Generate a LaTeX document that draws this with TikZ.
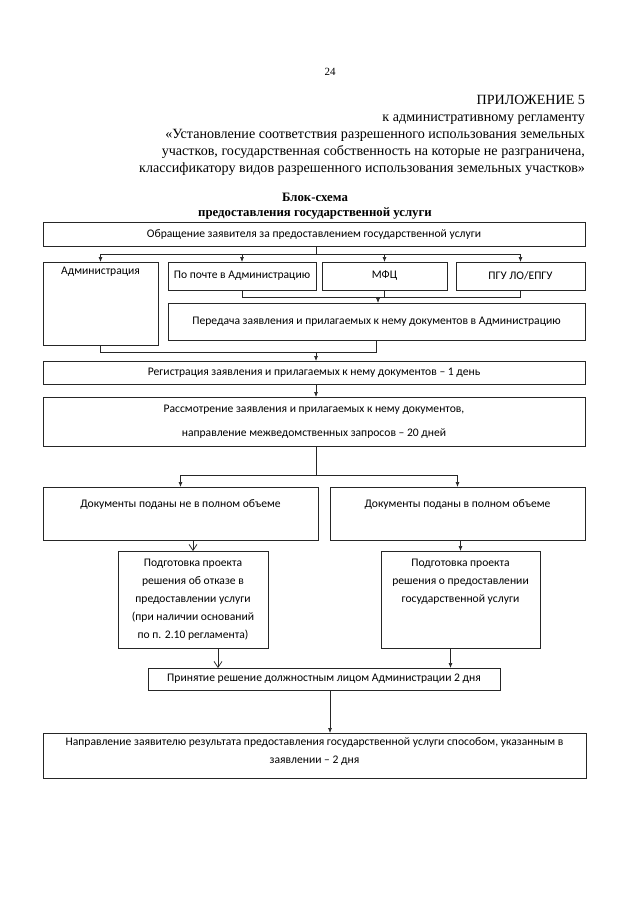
\documentclass[tikz,border=0pt]{standalone}
\usepackage{fontspec}
\setmainfont{Carlito}
\newfontfamily\timesf{Liberation Serif}
\usetikzlibrary{arrows.meta}
\tikzset{
	blk/.style={rectangle, draw=black!85, line width=0.7, align=center, font=\fontsize{11.6}{18}\selectfont},
	ln/.style={draw=black!85, line width=0.7},
	arr/.style={ln, -{Latex[length=5, width=4]}},
	oarr/.style={ln, -{Straight Barb[length=6, width=8]}},
	txt/.style={font=\fontsize{11.6}{18}\selectfont, align=center}
}
\begin{document}
\begin{tikzpicture}[y=-1pt, x=1pt, inner sep=0pt, outer sep=0pt]
\useasboundingbox (0,0) rectangle (640,905);
% header
\node[font=\timesf\fontsize{11}{13}\selectfont] (Page) at (330,72) {24};
\node[anchor=north east, align=right, font=\timesf\fontsize{14.1}{17}\selectfont] (Pril) at (585,95.5) {ПРИЛОЖЕНИЕ 5\\к административному регламенту\\«Установление соответствия разрешенного использования земельных\\участков, государственная собственность на которые не разграничена,\\классификатору видов разрешенного использования земельных участков»};
\node[align=center, font=\timesf\bfseries\fontsize{12.8}{14.5}\selectfont] (Title) at (315,206) {Блок-схема\\предоставления государственной услуги};
% boxes
\node[blk, minimum width=542, minimum height=24] (Obr) at (314,234) {Обращение заявителя за предоставлением государственной услуги};
\node[blk, minimum width=115, minimum height=83] (Adm) at (100.5,303.5) {};
\node[txt] (AdmT) at (100.5,272) {Администрация};
\node[blk, minimum width=148, minimum height=28] (Pocht) at (242,276) {По почте в Администрацию};
\node[blk, minimum width=125, minimum height=28] (MFC) at (384.5,276) {МФЦ};
\node[blk, minimum width=129, minimum height=28] (PGU) at (520.5,276) {ПГУ ЛО/ЕПГУ};
\node[blk, minimum width=417, minimum height=37] (Pered) at (376.5,321.5) {Передача заявления и прилагаемых к нему документов в Администрацию};
\node[blk, minimum width=542, minimum height=23] (Reg) at (314,372.5) {Регистрация заявления и прилагаемых к нему документов – 1 день};
\node[blk, minimum width=542, minimum height=49, font=\fontsize{11.6}{24}\selectfont] (Rassm) at (314,421.5) {Рассмотрение заявления и прилагаемых к нему документов,\\направление межведомственных запросов – 20 дней};
\node[blk, minimum width=275, minimum height=53] (NeP) at (180.5,513.5) {};
\node[txt] (NePT) at (180.5,504) {Документы поданы не в полном объеме};
\node[blk, minimum width=255, minimum height=53] (Poln) at (457.5,513.5) {};
\node[txt] (PolnT) at (457.5,504) {Документы поданы в полном объеме};
\node[blk, minimum width=150, minimum height=97] (Otkaz) at (193,599.5) {Подготовка проекта\\решения об отказе в\\предоставлении услуги\\(при наличии оснований\\по п. 2.10 регламента)};
\node[blk, minimum width=159, minimum height=97] (Predost) at (460.5,599.5) {};
\node[txt, anchor=north] (PredostT) at (460.5,559) {Подготовка проекта\\решения о предоставлении\\государственной услуги};
\node[blk, minimum width=352, minimum height=22] (Prin) at (324,679) {Принятие решение должностным лицом Администрации 2 дня};
\node[blk, minimum width=543, minimum height=45] (Napr) at (314.5,755.5) {};
\node[txt, anchor=north] (NaprT) at (314.5,737.5) {Направление заявителю результата предоставления государственной услуги способом, указанным в\\заявлении – 2 дня};
% connectors
\coordinate (busA) at (316,254);
\coordinate (busB) at (378,297);
\coordinate (busC) at (316,352);
\coordinate (busD) at (316,475);
\draw[ln] (Obr.south -| busA) -- (busA);
\draw[ln] (busA -| Adm) -- (busA -| PGU);
\draw[arr] (busA -| Adm) -- (Adm.north);
\draw[arr] (busA -| Pocht) -- (Pocht.north);
\draw[arr] (busA -| MFC) -- (MFC.north);
\draw[arr] (busA -| PGU) -- (PGU.north);
\draw[ln] (Pocht.south) |- (busB -| PGU) -- (PGU.south);
\draw[ln] (MFC.south) -- (MFC.south |- busB);
\draw[arr] (busB) -- (busB |- Pered.north);
\draw[ln] (Adm.south) |- (busC -| Pered) -- (Pered.south);
\draw[arr] (busC) -- (busC |- Reg.north);
\draw[arr] (Reg.south -| busC) -- (Rassm.north -| busC);
\draw[ln] (Rassm.south -| busD) -- (busD);
\draw[arr] (busD) -| (NeP.north);
\draw[arr] (busD) -| (Poln.north);
\draw[oarr] (NeP.south -| Otkaz) -- (Otkaz.north);
\draw[arr] (Poln.south -| Predost) -- (Predost.north);
\draw[oarr] ([xshift=25]Otkaz.south) -- ([xshift=25]Otkaz.south |- Prin.north);
\draw[arr] ([xshift=-10]Predost.south) -- ([xshift=-10]Predost.south |- Prin.north);
\draw[arr] ([xshift=6]Prin.south) -- ([xshift=6]Prin.south |- Napr.north);
\end{tikzpicture}
\end{document}
